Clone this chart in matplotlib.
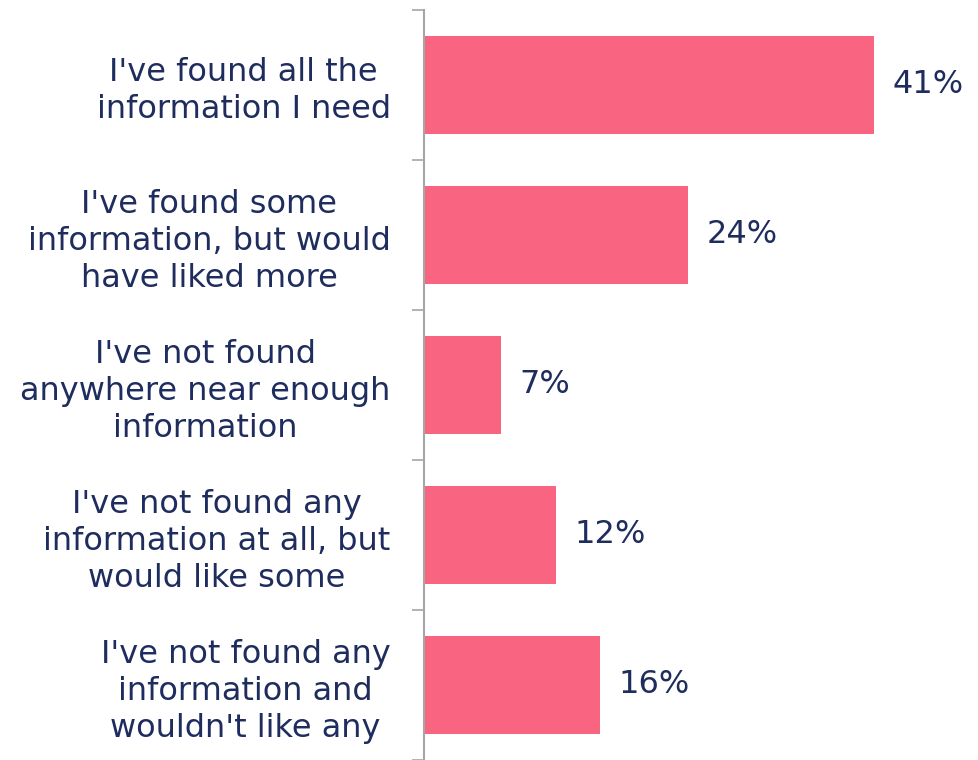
import matplotlib.pyplot as plt
import numpy as np

categories = [
    "I've found all the\ninformation I need",
    "I've found some\ninformation, but would\nhave liked more",
    "I've not found\nanywhere near enough\ninformation",
    "I've not found any\ninformation at all, but\nwould like some",
    "I've not found any\ninformation and\nwouldn't like any",
]
values = [41, 24, 7, 12, 16]
value_labels = ["41%", "24%", "7%", "12%", "16%"]

bar_color = "#f96580"
text_color = "#1f2d5e"
axis_color = "#a6a6a6"

fig = plt.figure(figsize=(9.79, 7.6), dpi=100)
ax = fig.add_axes([424 / 979, 0.0, 549 / 979, 0.987])

y = np.arange(len(categories))
ax.barh(y, values, height=0.65, color=bar_color)
for yi, v, lab in zip(y, values, value_labels):
    ax.text(v + 1.7, yi, lab, va="center", ha="left", fontsize=23, color=text_color)

ax.set_xlim(0, 50)
ax.set_ylim(len(categories) - 0.5, -0.5)

ax.set_yticks(y)
ax.set_yticklabels(categories, fontsize=23, color=text_color, ha="right",
                   multialignment="center", linespacing=1.25)
ax.tick_params(axis="y", which="major", length=0, pad=24)
ax.set_yticks(np.arange(-0.5, len(categories) + 0.5, 1), minor=True)
ax.tick_params(axis="y", which="minor", length=9, width=1.2, color=axis_color)
ax.set_xticks([])

for side in ["top", "right", "bottom"]:
    ax.spines[side].set_visible(False)
ax.spines["left"].set_color(axis_color)
ax.spines["left"].set_linewidth(1.5)

fig.savefig("out.png", dpi=100)
